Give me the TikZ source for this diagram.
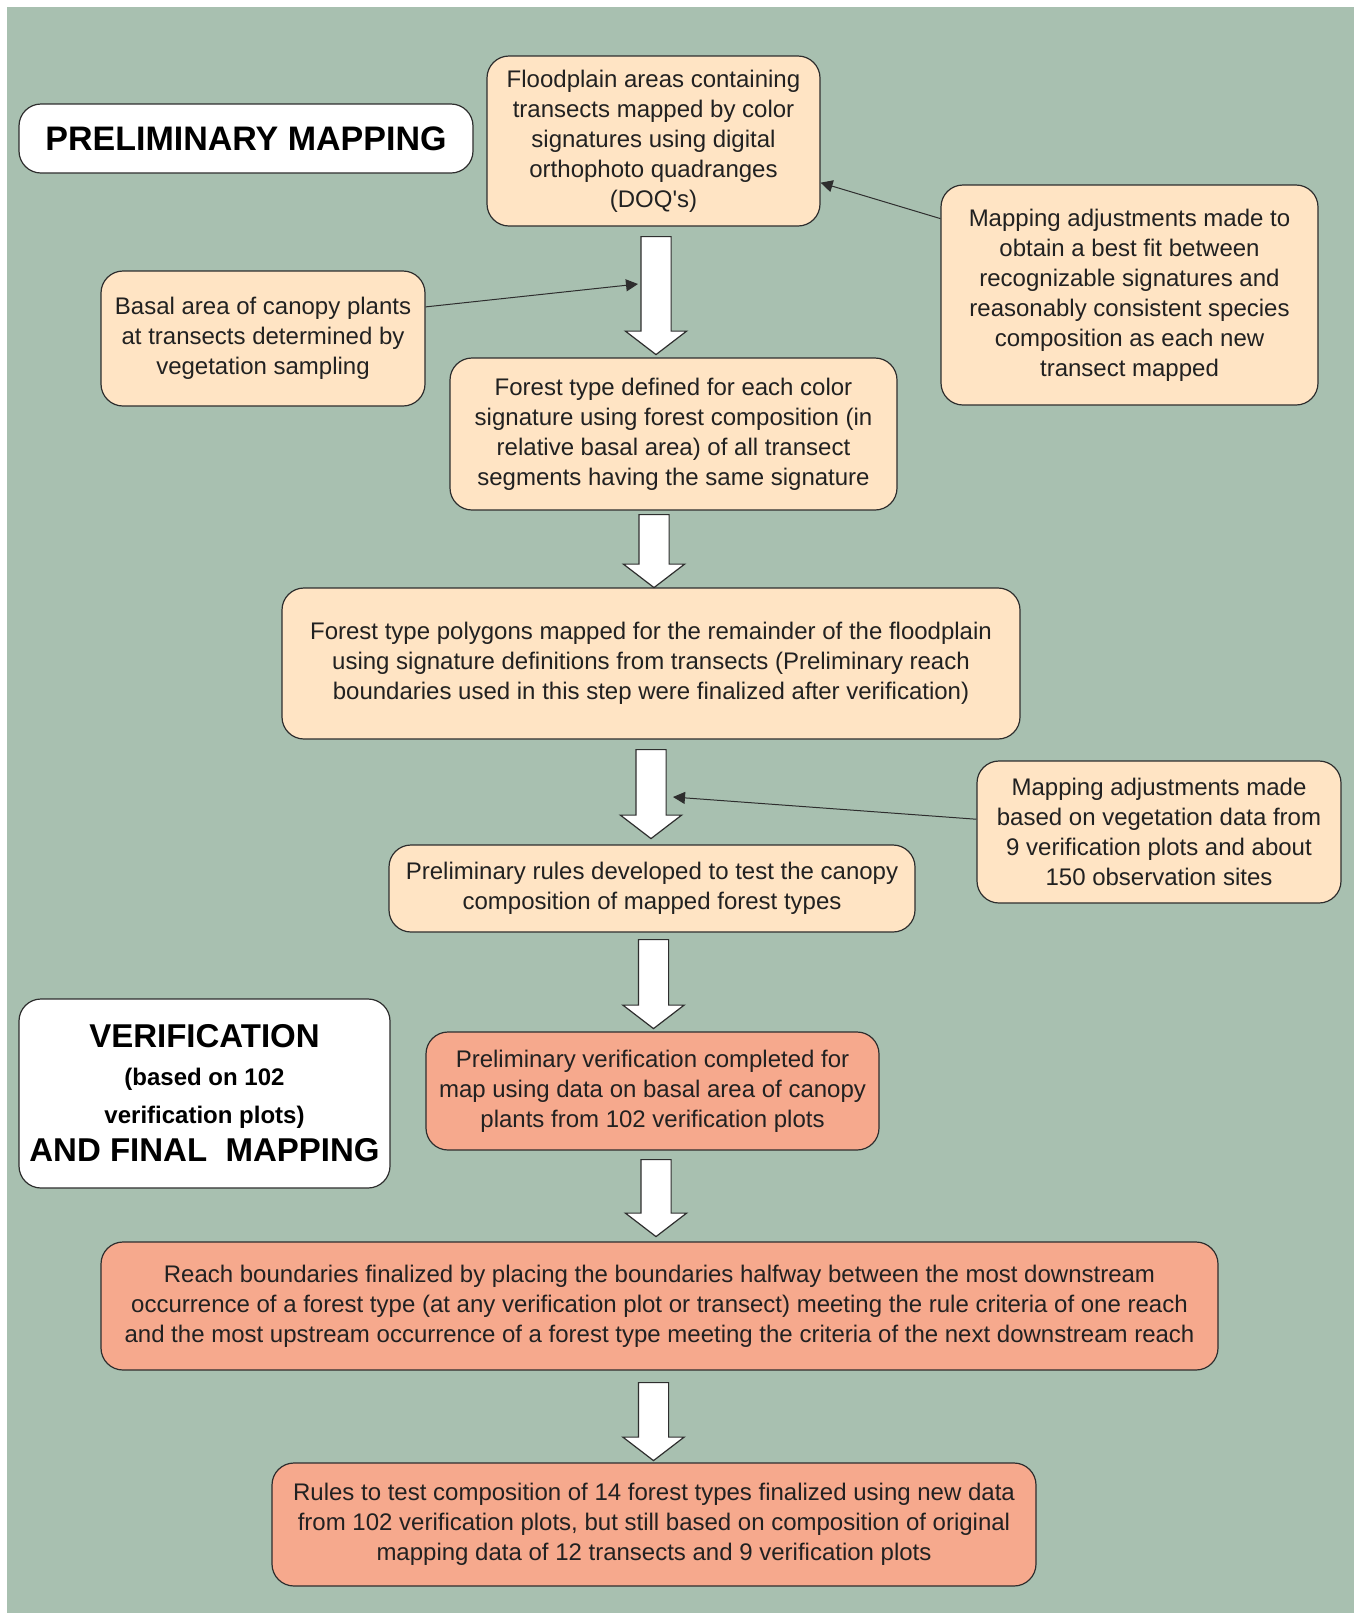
\documentclass[tikz,border=0pt]{standalone}
\usepackage{fontspec}
\setmainfont{Liberation Sans}
\usetikzlibrary{arrows.meta,shapes.arrows}
\definecolor{bggreen}{HTML}{A8C0B0}
\definecolor{peach}{HTML}{FFE4C4}
\definecolor{salmon}{HTML}{F6A98D}
\definecolor{edgegray}{HTML}{2E2E2E}

\begin{document}
\begin{tikzpicture}[auto,x=0.5pt,y=-0.5pt,>={Triangle[length=6pt,width=6pt]}]
\tikzstyle{box} = [draw=edgegray, line width=0.6pt, rounded corners=11pt, fill=peach, align=center, text=black!87, font=\fontsize{12}{15}\selectfont, inner sep=0pt]
\tikzstyle{finalbox} = [box, fill=salmon]
\tikzstyle{titlebox} = [box, fill=white, text=black, font=\fontsize{17}{19}\selectfont\bfseries]
\tikzstyle{blkarrow} = [draw=edgegray, line width=0.6pt, fill=white, single arrow, shape border rotate=270, minimum width=30pt, single arrow head extend=7.75pt, single arrow tip angle=105, inner sep=7.25pt]
\tikzstyle{link} = [->, line width=0.5pt, draw=edgegray]
% background
\useasboundingbox (0,0) rectangle (1354,1613);
\fill[bggreen] (7,7) rectangle (1354,1613);
% preliminary mapping
\node [titlebox, minimum width=227pt, minimum height=34.5pt] (prelim) at (246,138.5) {PRELIMINARY MAPPING};
\node [box, minimum width=166.5pt, minimum height=85pt] (flood) at (653.5,141) {Floodplain areas containing\\ transects mapped by color\\ signatures using digital\\ orthophoto quadranges\\ (DOQ\textquotesingle s)};
\node [box, minimum width=188.5pt, minimum height=110pt] (adj1) at (1129.5,295) {Mapping adjustments made to\\ obtain a best fit between\\ recognizable signatures and\\ reasonably consistent species\\ composition as each new\\ transect mapped};
\node [box, minimum width=162pt, minimum height=67.5pt] (basal) at (263,338.5) {Basal area of canopy plants\\ at transects determined by\\ vegetation sampling};
\node [box, minimum width=223.5pt, minimum height=76pt] (ftype) at (673.5,434) {Forest type defined for each color\\ signature using forest composition (in\\ relative basal area) of all transect\\ segments having the same signature};
\node [box, minimum width=369pt, minimum height=75.5pt] (poly) at (651,663.5) {Forest type polygons mapped for the remainder of the floodplain\\ using signature definitions from transects (Preliminary reach\\ boundaries used in this step were finalized after verification)};
\node [box, minimum width=182pt, minimum height=71pt] (adj2) at (1159,832) {Mapping adjustments made\\ based on vegetation data from\\ 9 verification plots and about\\ 150 observation sites};
\node [box, minimum width=263pt, minimum height=43.5pt] (prules) at (652,888.5) {Preliminary rules developed to test the canopy\\ composition of mapped forest types};
% verification and final mapping
\node [titlebox, minimum width=185.5pt, minimum height=94.5pt, font=\fontsize{12}{19}\selectfont\bfseries] (verif) at (204.5,1093.5) {{\fontsize{16.5}{19}\selectfont VERIFICATION}\\ (based on 102\\ verification plots)\\ {\fontsize{16.5}{19}\selectfont AND FINAL~ MAPPING}};
\node [finalbox, minimum width=226.5pt, minimum height=59pt] (pverif) at (652.5,1091) {Preliminary verification completed for\\ map using data on basal area of canopy\\ plants from 102 verification plots};
\node [finalbox, minimum width=558.5pt, minimum height=64pt] (reach) at (659.5,1306) {Reach boundaries finalized by placing the boundaries halfway between the most downstream\\ occurrence of a forest type (at any verification plot or transect) meeting the rule criteria of one reach\\ and the most upstream occurrence of a forest type meeting the criteria of the next downstream reach};
\node [finalbox, minimum width=382pt, minimum height=61.5pt] (rules) at (654,1524.5) {Rules to test composition of 14 forest types finalized using new data\\ from 102 verification plots, but still based on composition of original\\ mapping data of 12 transects and 9 verification plots};
% block arrows
\node [blkarrow, minimum height=59pt, anchor=tail] (arr1) at (656,236) {};
\node [blkarrow, minimum height=36.5pt, anchor=tail] (arr2) at (654,514) {};
\node [blkarrow, minimum height=44.5pt, anchor=tail] (arr3) at (651,749) {};
\node [blkarrow, minimum height=44.5pt, anchor=tail] (arr4) at (653.5,939) {};
\node [blkarrow, minimum height=38.5pt, anchor=tail] (arr5) at (656,1159) {};
\node [blkarrow, minimum height=39pt, anchor=tail] (arr6) at (653.5,1382) {};
% side links
\path (adj1.158) edge [link] (flood.-14);
\path (basal.11) edge [link] ([xshift=-9pt,yshift=-24pt]arr1.tail);
\path (adj2.176) edge [link] ([xshift=11pt,yshift=-24pt]arr3.tail);
\end{tikzpicture}
\end{document}
